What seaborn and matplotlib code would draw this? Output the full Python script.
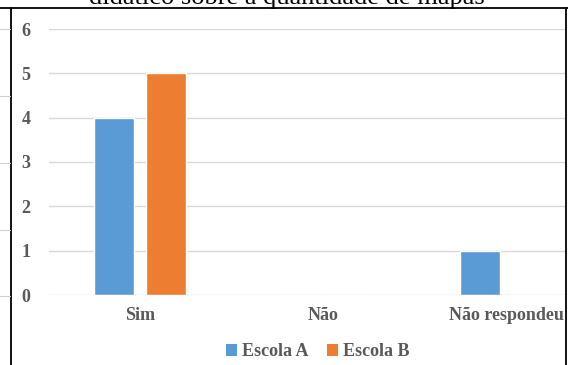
import pandas as pd
import seaborn as sns
import matplotlib.pyplot as plt
from matplotlib.lines import Line2D
from matplotlib.patches import Patch

# Data
respostas = ["Sim", "Não", "Não respondeu"]
escola_a = [4, 0, 1]
escola_b = [5, 0, 0]
escolas = ["Escola A", "Escola B"]
cores = ["#5B9BD5", "#ED7D31"]
titulo = "didático sobre a quantidade de mapas"

df = pd.DataFrame({
    "resposta": respostas * 2,
    "qtd": escola_a + escola_b,
    "escola": [escolas[0]] * 3 + [escolas[1]] * 3,
})

sns.set_style("white")
plt.rcParams["font.family"] = ["Liberation Serif", "DejaVu Serif"]
cinza = "#595959"

W, H = 568, 365
fig = plt.figure(figsize=(W / 100, H / 100), dpi=100)
ax = fig.add_axes([48.5 / W, 1 - 295 / H, (565 - 48.5) / W, (295 - 29) / H])

sns.barplot(data=df, x="resposta", y="qtd", hue="escola", order=respostas,
            hue_order=escolas, palette=cores, width=0.568, gap=0.23,
            saturation=1, legend=False, ax=ax, zorder=3)

ax.set_xlim(-0.5, (565 - 140) / 183)
ax.set_ylim(0, 6)
ax.set_yticks(range(7))
ax.grid(axis="y", color="#d9d9d9", linewidth=1, zorder=0)
ax.set_axisbelow(True)
for s in ax.spines.values():
    s.set_visible(False)
ax.tick_params(axis="both", length=0, labelcolor=cinza, labelsize=13)
ax.tick_params(axis="y", pad=13)
ax.tick_params(axis="x", pad=9)
for lbl in ax.get_xticklabels() + ax.get_yticklabels():
    lbl.set_fontweight("bold")
ax.set_xlabel("")
ax.set_ylabel("")

# legend
handles = [Patch(facecolor=c, edgecolor="none") for c in cores]
fig.legend(handles, escolas, loc="center", bbox_to_anchor=(318 / W, 1 - 352 / H),
           ncol=2, frameon=False, handlelength=0.6, handleheight=0.6,
           handletextpad=0.3, columnspacing=1.0,
           prop={"weight": "bold", "size": 13}, labelcolor=cinza)

# title, cut at top
fig.text(287 / W, 1 - 4 / H, titulo, ha="center", va="baseline",
         fontsize=19, color="black")

# frame lines
fig.add_artist(Line2D([0, 1], [1 - 8 / H] * 2, color="black", linewidth=1.3))
fig.add_artist(Line2D([11 / W] * 2, [0, 1 - 8 / H], color="black", linewidth=1.3))
fig.add_artist(Line2D([565.5 / W] * 2, [0, 1 - 8 / H], color="black", linewidth=1.3))
for y in [29, 96, 163, 230, 296]:
    fig.add_artist(Line2D([0, 10 / W], [1 - y / H] * 2, color="#d0d0d0", linewidth=0.8))

fig.savefig("out.png", dpi=100)
